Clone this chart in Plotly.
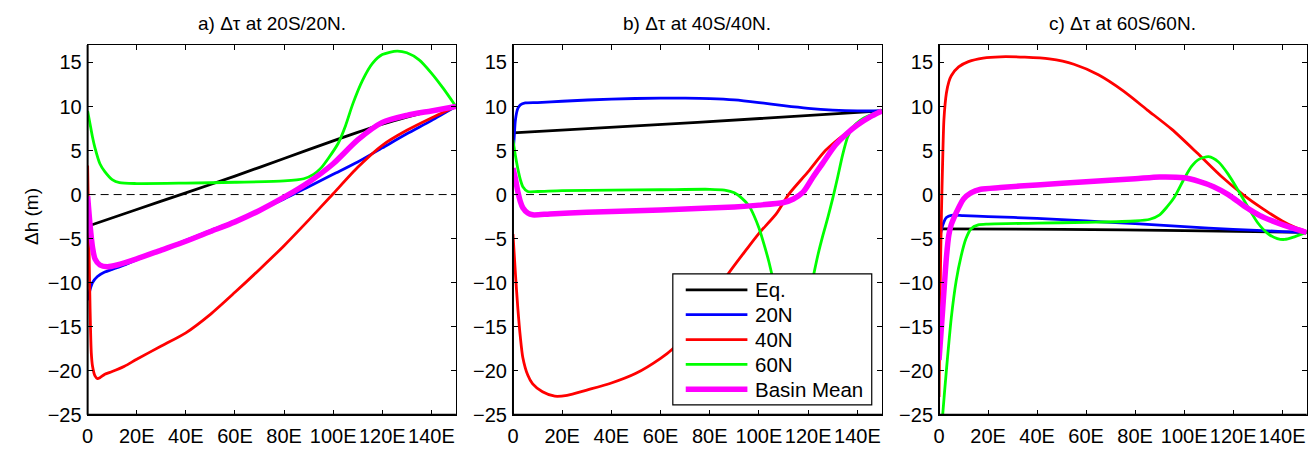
import plotly.graph_objects as go

# ---- axes ----
x_ticks = [0, 20, 40, 60, 80, 100, 120, 140]
x_tick_labels = ["0", "20E", "40E", "60E", "80E", "100E", "120E", "140E"]
y_ticks = [-25, -20, -15, -10, -5, 0, 5, 10, 15]

panel_titles = ["a) \u0394\u03c4 at 20S/20N.", "b) \u0394\u03c4 at 40S/40N.", "c) \u0394\u03c4 at 60S/60N."]
series_names = ["Eq.", "20N", "40N", "60N", "Basin Mean"]

# ---- panel a: tau anomaly at 20S/20N ----
a_eq_x = [0, 20, 40, 60, 80, 100, 120, 130, 140, 150]
a_eq_y = [-3.6, -1.7, 0.2, 2.1, 4.1, 6.1, 8.0, 8.8, 9.5, 10.0]
a_20n_x = [0, 1, 2, 4, 7, 10, 15, 20, 30, 40, 50, 60, 70, 80, 90, 100, 110, 120, 130, 140, 150]
a_20n_y = [-12.0, -10.8, -10.0, -9.3, -8.8, -8.5, -8.0, -7.4, -6.3, -5.2, -4.1, -3.0, -1.8, -0.5, 0.9, 2.3, 3.7, 5.3, 6.9, 8.4, 10.0]
a_40n_x = [0, 0.5, 1, 1.5, 2, 3, 4, 5, 7, 10, 15, 20, 30, 40, 50, 60, 70, 80, 90, 100, 110, 120, 130, 140, 150]
a_40n_y = [3.3, -5.0, -13.0, -18.0, -19.5, -20.6, -20.9, -20.8, -20.4, -20.1, -19.5, -18.7, -17.2, -15.7, -13.6, -11.1, -8.5, -5.8, -2.9, 0.1, 3.1, 5.6, 7.3, 8.7, 10.0]
a_60n_x = [0, 1, 2, 3, 5, 7, 10, 13, 20, 40, 60, 80, 88, 92, 95, 98, 102, 105, 108, 112, 116, 120, 126, 130, 135, 140, 145, 150]
a_60n_y = [9.5, 8.0, 6.5, 5.3, 3.5, 2.6, 1.7, 1.35, 1.25, 1.3, 1.4, 1.55, 1.8, 2.3, 3.0, 4.1, 5.8, 7.8, 10.3, 13.0, 14.9, 15.9, 16.3, 16.1, 15.3, 13.8, 12.0, 10.0]
a_bm_x = [0, 1, 2, 3, 5, 8, 12, 20, 30, 40, 50, 60, 70, 80, 90, 100, 110, 120, 130, 140, 150]
a_bm_y = [-0.2, -3.5, -6.0, -7.3, -8.0, -8.2, -8.0, -7.3, -6.3, -5.3, -4.2, -3.1, -1.8, -0.3, 1.4, 3.5, 6.2, 8.2, 9.0, 9.5, 10.0]

# ---- panel b: tau anomaly at 40S/40N ----
b_eq_x = [0, 75, 150]
b_eq_y = [7.0, 8.2, 9.5]
b_20n_x = [0, 0.5, 1, 2, 3, 5, 10, 20, 40, 60, 70, 80, 90, 100, 110, 120, 130, 140, 150]
b_20n_y = [4.5, 6.5, 8.5, 9.8, 10.2, 10.4, 10.45, 10.6, 10.85, 10.95, 10.95, 10.9, 10.75, 10.45, 10.1, 9.8, 9.6, 9.5, 9.5]
b_40n_x = [0, 1, 2, 3, 4, 6, 8, 12, 17, 22, 30, 40, 50, 60, 65, 70, 80, 87, 95, 100, 107, 112, 120, 127, 135, 140, 145, 150]
b_40n_y = [-4.5, -9.0, -13.0, -16.2, -18.5, -20.5, -21.5, -22.4, -22.9, -22.8, -22.2, -21.4, -20.3, -18.6, -17.5, -16.0, -12.5, -9.2, -6.2, -4.4, -2.2, 0.0, 2.6, 5.0, 6.9, 7.9, 8.7, 9.5]
b_60n_x = [0, 1, 2, 3, 4, 6, 10, 20, 40, 60, 80, 86, 90, 93, 96, 98, 100, 102, 104, 106, 110, 114, 118, 122, 124, 126, 128, 130, 132, 134, 136, 138, 141, 145, 150]
b_60n_y = [6.2, 4.4, 2.9, 1.7, 0.9, 0.35, 0.35, 0.45, 0.5, 0.55, 0.6, 0.5, 0.2, -0.4, -1.3, -2.4, -3.8, -5.6, -7.6, -10.0, -15.0, -17.0, -15.0, -9.4, -6.8, -4.6, -2.6, -0.4, 2.0, 4.5, 6.5, 7.6, 8.4, 9.0, 9.5]
b_bm_x = [0, 1, 2, 3, 4, 6, 8, 15, 30, 50, 70, 90, 100, 110, 114, 118, 122, 126, 131, 136, 140, 145, 150]
b_bm_y = [3.0, 1.8, 0.3, -0.8, -1.5, -2.1, -2.3, -2.2, -2.0, -1.85, -1.65, -1.4, -1.2, -0.9, -0.5, 0.3, 2.0, 3.6, 5.6, 7.0, 7.9, 8.8, 9.5]

# ---- panel c: tau anomaly at 60S/60N ----
c_eq_x = [0, 50, 100, 150]
c_eq_y = [-3.9, -3.95, -4.1, -4.3]
c_20n_x = [0, 1, 2, 3, 5, 10, 20, 40, 60, 80, 100, 120, 140, 150]
c_20n_y = [-5.3, -4.0, -3.1, -2.6, -2.35, -2.4, -2.5, -2.7, -3.0, -3.3, -3.65, -3.95, -4.2, -4.3]
c_40n_x = [0, 0.5, 1, 1.5, 2, 3, 4, 5, 8, 12, 18, 25, 35, 45, 55, 65, 75, 85, 95, 105, 115, 124, 132, 140, 145, 150]
c_40n_y = [-23.0, -10.0, -2.0, 4.0, 8.5, 11.5, 12.8, 13.5, 14.5, 15.1, 15.5, 15.65, 15.6, 15.4, 14.8, 13.6, 11.8, 9.6, 7.4, 4.8, 2.1, 0.0, -1.6, -3.0, -3.7, -4.2]
c_60n_x = [0, 1.5, 3, 5, 7, 9, 11, 13, 16, 20, 40, 60, 80, 86, 90, 93, 96, 100, 103, 106, 110, 114, 118, 122, 126, 130, 134, 138, 141, 145, 150]
c_60n_y = [-31.0, -25.0, -20.0, -14.0, -9.8, -7.0, -5.0, -3.9, -3.45, -3.35, -3.25, -3.15, -3.0, -2.8, -2.3, -1.4, -0.3, 1.8, 3.2, 4.0, 4.3, 3.7, 2.3, 0.5, -1.4, -3.2, -4.4, -5.0, -5.1, -4.8, -4.3]
c_bm_x = [0, 1, 2, 3, 4, 5, 6, 8, 10, 13, 17, 25, 40, 60, 80, 90, 100, 106, 112, 118, 125, 131, 137, 143, 150]
c_bm_y = [-18.8, -15.0, -11.0, -7.2, -4.6, -3.4, -2.7, -1.5, -0.5, 0.2, 0.6, 0.8, 1.1, 1.45, 1.8, 2.0, 1.9, 1.5, 0.9, 0.0, -1.4, -2.4, -3.1, -3.7, -4.3]

panels = [
    [(a_eq_x, a_eq_y), (a_20n_x, a_20n_y), (a_40n_x, a_40n_y), (a_60n_x, a_60n_y), (a_bm_x, a_bm_y)],
    [(b_eq_x, b_eq_y), (b_20n_x, b_20n_y), (b_40n_x, b_40n_y), (b_60n_x, b_60n_y), (b_bm_x, b_bm_y)],
    [(c_eq_x, c_eq_y), (c_20n_x, c_20n_y), (c_40n_x, c_40n_y), (c_60n_x, c_60n_y), (c_bm_x, c_bm_y)],
]

# ---- styling ----
W, H = 1314, 454
FONT = "Liberation Sans, Arial, Helvetica, sans-serif"
line_colors = ["#000000", "#0000ff", "#ff0000", "#00ff00", "#ff00ff"]
line_widths = [2.8, 2.8, 2.8, 2.8, 5.5]

plot_left = [82, 509.3, 937.3]
plot_right = [452, 880, 1306.7]
plot_top, plot_bottom = 46, 425
y_dom = [1 - plot_bottom / H, 1 - plot_top / H]

fig = go.Figure()
layout = dict(
    width=W, height=H,
    margin=dict(l=0, r=0, t=0, b=0),
    paper_bgcolor="white", plot_bgcolor="white",
    showlegend=False,
    font=dict(family=FONT, size=20, color="black"),
)
shapes = []
annotations = []

for i, series in enumerate(panels):
    k = "" if i == 0 else str(i + 1)
    xa, ya = "x" + k, "y" + k
    for j, (xs, ys) in enumerate(series):
        fig.add_trace(go.Scatter(
            x=xs, y=ys, mode="lines", name=series_names[j],
            xaxis=xa, yaxis=ya,
            line=dict(color=line_colors[j], width=line_widths[j], shape="spline", smoothing=0.7),
            hoverinfo="x+y+name",
        ))
    axis_common = dict(
        showgrid=False, zeroline=False, showline=True, linecolor="black", linewidth=1,
        mirror="ticks", ticks="inside", ticklen=5, tickwidth=1, tickcolor="black",
        tickfont=dict(family=FONT, size=20, color="black"),
    )
    layout["xaxis" + k] = dict(
        axis_common, domain=[plot_left[i] / W, plot_right[i] / W], anchor=ya,
        range=[0, 150], tickvals=x_ticks, ticktext=x_tick_labels, tickangle=0,
        ticklabelstandoff=3,
    )
    layout["yaxis" + k] = dict(
        axis_common, domain=y_dom, anchor=xa,
        range=[-25, 17], tickvals=y_ticks, ticklabelstandoff=1,
    )
    # dashed zero line
    shapes.append(dict(type="line", xref=xa + " domain", x0=0, x1=1, yref=ya, y0=0, y1=0,
                       line=dict(color="black", width=1, dash="8px,5px"), layer="below"))
    # heavier left and bottom axis lines
    shapes.append(dict(type="line", xref=xa + " domain", x0=0, x1=0, yref=ya + " domain", y0=0, y1=1,
                       line=dict(color="black", width=2)))
    shapes.append(dict(type="line", xref=xa + " domain", x0=0, x1=1, yref=ya + " domain", y0=0, y1=0,
                       line=dict(color="black", width=2)))
    # panel title
    annotations.append(dict(
        text=panel_titles[i], xref="paper", yref="paper",
        x=(plot_left[i] + plot_right[i]) / 2 / W, y=1 - 24.5 / H,
        xanchor="center", yanchor="middle", showarrow=False,
        font=dict(family=FONT, size=19, color="black"),
    ))

# y axis label
annotations.append(dict(
    text="\u0394h (m)", xref="paper", yref="paper", x=25 / W, y=1 - 221.5 / H,
    xanchor="center", yanchor="middle", textangle=-90, showarrow=False,
    font=dict(family=FONT, size=19, color="black"),
))

# legend box drawn inside panel b
lx0, lx1 = (670 - plot_left[1]) / 371, (870 - plot_left[1]) / 371
ly0, ly1 = (plot_bottom - 415) / 379, (plot_bottom - 280.7) / 379
shapes.append(dict(type="rect", xref="x2 domain", yref="y2 domain", x0=lx0, x1=lx1, y0=ly0, y1=ly1,
                   fillcolor="white", line=dict(color="black", width=1.2), layer="above"))
row_px = [297, 322.5, 348, 373.5, 399]
for j, name in enumerate(series_names):
    yy = (plot_bottom - row_px[j]) / 379
    shapes.append(dict(type="line", xref="x2 domain", yref="y2 domain",
                       x0=(683 - plot_left[1]) / 371, x1=(745 - plot_left[1]) / 371, y0=yy, y1=yy,
                       line=dict(color=line_colors[j], width=line_widths[j]), layer="above"))
    annotations.append(dict(
        text=name, xref="x2 domain", yref="y2 domain", x=(751 - plot_left[1]) / 371, y=yy,
        xanchor="left", yanchor="middle", showarrow=False,
        font=dict(family=FONT, size=20.5, color="black"),
    ))

layout["shapes"] = shapes
layout["annotations"] = annotations
fig.update_layout(**layout)
fig.write_html("out.html")
